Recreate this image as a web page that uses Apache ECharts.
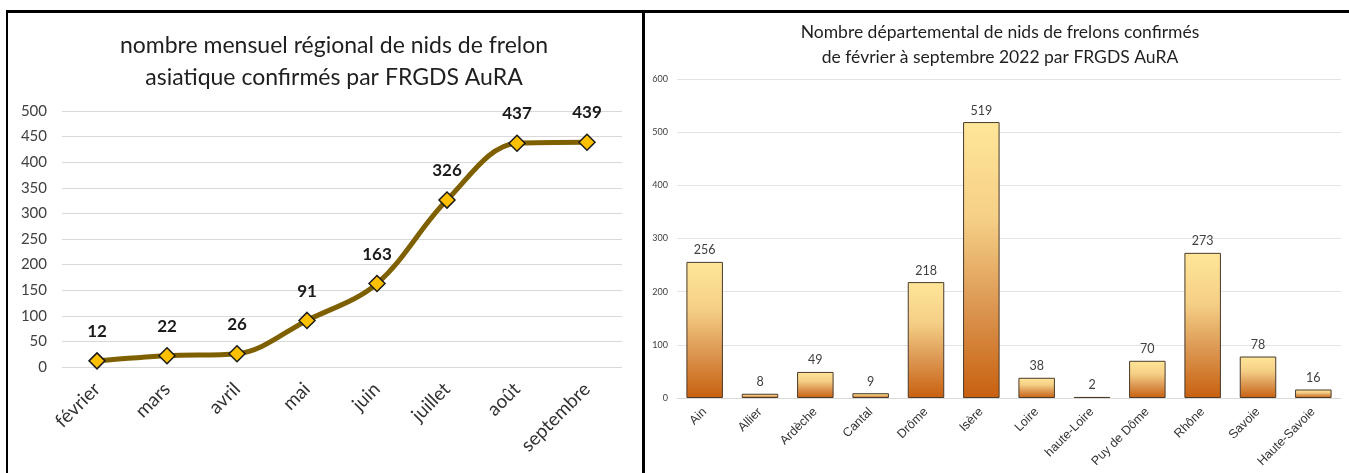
<!DOCTYPE html>
<html>
<head>
<meta charset="utf-8">
<script src="https://cdn.jsdelivr.net/npm/echarts@6/dist/echarts.min.js"></script>
<style>
html,body{margin:0;padding:0;background:#fff;}
#c{width:1349px;height:473px;}
</style>
</head>
<body>
<div id="c"></div>
<script>
const months = ['février','mars','avril','mai','juin','juillet','août','septembre'];
const monthlyNests = [12,22,26,91,163,326,437,439];
const depts = ['Ain','Allier','Ardèche','Cantal','Drôme','Isère','Loire','haute-Loire','Puy de Dôme','Rhône','Savoie','Haute-Savoie'];
const deptNests = [256,8,49,9,218,519,38,2,70,273,78,16];
const leftTitle = 'nombre mensuel régional de nids de frelon\nasiatique confirmés par FRGDS AuRA';
const rightTitle = 'Nombre départemental de nids de frelons confirmés\nde février à septembre 2022 par FRGDS AuRA';

const chart = echarts.init(document.getElementById('c'), null, {renderer:'canvas'});
const FONT = 'Lato, "Open Sans", sans-serif';
chart.setOption({
  animation:false,
  backgroundColor:'#fff',
  title:[
    {text:leftTitle, left:329, top:25, textAlign:'center',
     textStyle:{fontFamily:FONT, fontSize:23, fontWeight:'normal', color:'#1f1f1f', lineHeight:32}},
    {text:rightTitle, left:995, top:15, textAlign:'center',
     textStyle:{fontFamily:FONT, fontSize:17.5, fontWeight:'normal', color:'#1f1f1f', lineHeight:25}}
  ],
  grid:[
    {left:62, right:727, top:111, bottom:106, containLabel:false},
    {left:677, right:8, top:79, bottom:75, containLabel:false}
  ],
  xAxis:[
    {type:'category', gridIndex:0, data:months, boundaryGap:true,
     axisLine:{show:false}, axisTick:{show:false},
     axisLabel:{rotate:45, margin:19, fontFamily:FONT, fontSize:19, color:'#333', interval:0}},
    {type:'category', gridIndex:1, data:depts, boundaryGap:true,
     axisLine:{show:true, lineStyle:{color:'#d9d9d9', width:1}}, axisTick:{show:false},
     axisLabel:{rotate:45, margin:12, fontFamily:'"Liberation Sans", Arial, sans-serif', fontSize:12.5, color:'#333', interval:0}}
  ],
  yAxis:[
    {type:'value', gridIndex:0, min:0, max:500, interval:50,
     axisLine:{show:false}, axisTick:{show:false},
     splitLine:{lineStyle:{color:'#d9d9d9', width:1}},
     axisLabel:{margin:15, fontFamily:FONT, fontSize:15, color:'#404040'}},
    {type:'value', gridIndex:1, min:0, max:600, interval:100,
     axisLine:{show:false}, axisTick:{show:false},
     splitLine:{lineStyle:{color:'#e3e3e3', width:1}},
     axisLabel:{margin:9, fontFamily:FONT, fontSize:9, color:'#404040'}}
  ],
  series:[
    {type:'line', xAxisIndex:0, yAxisIndex:0, data:monthlyNests, smooth:0.35,
     lineStyle:{color:'#7F6000', width:5},
     symbol:'diamond', symbolSize:16,
     itemStyle:{color:'#FFC000', borderColor:'#1a1a1a', borderWidth:1.5},
     label:{show:true, position:'top', distance:12, fontFamily:FONT, fontSize:17, fontWeight:'bold', color:'#1a1a1a'}},
    {type:'bar', xAxisIndex:1, yAxisIndex:1, data:deptNests, barWidth:'66%',
     itemStyle:{
       color:new echarts.graphic.LinearGradient(0,0,0,1,[
         {offset:0, color:'#FFE699'},
         {offset:0.35, color:'#F5CF86'},
         {offset:0.65, color:'#DD9A55'},
         {offset:1, color:'#C8600F'}
       ]),
       borderColor:'#4a3a2a', borderWidth:1},
     label:{show:true, position:'top', distance:5, fontFamily:FONT, fontSize:12.5, color:'#404040'}}
  ],
  graphic:[
    {type:'rect', shape:{x:6, y:10, width:1343, height:3}, style:{fill:'#000'}, silent:true},
    {type:'rect', shape:{x:6, y:10, width:2, height:463}, style:{fill:'#000'}, silent:true},
    {type:'rect', shape:{x:642, y:10, width:3, height:463}, style:{fill:'#000'}, silent:true}
  ]
});
</script>
</body>
</html>
